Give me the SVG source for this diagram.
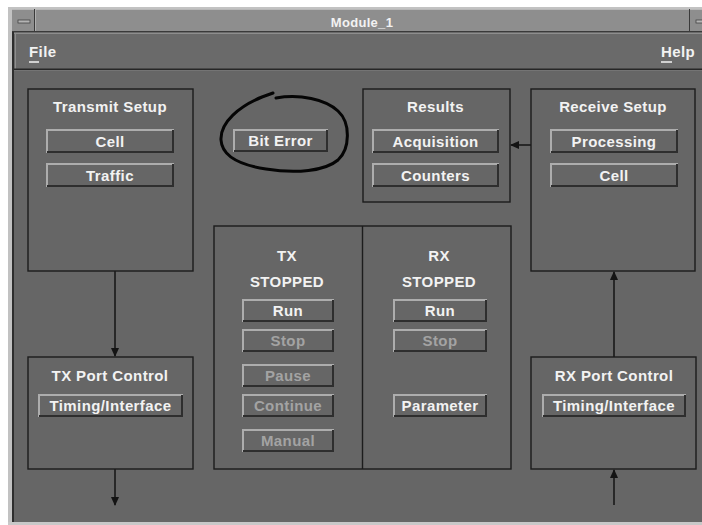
<svg xmlns="http://www.w3.org/2000/svg" width="702" height="525" viewBox="0 0 702 525">
<defs>
<style>
.t{font-family:"Liberation Sans",Arial,Helvetica,sans-serif;font-weight:bold;font-size:15px;fill:#f2f2f2;text-anchor:middle;letter-spacing:0.4px}
.dis{fill:#a3a3a3}
.box{fill:none;stroke:#1c1c1c;stroke-width:1.4}
.bl{fill:none;stroke:#adadad;stroke-width:2}
.bd{fill:none;stroke:#2e2e2e;stroke-width:2}
.face{fill:#666666}
.c{stroke:#141414;stroke-width:1.5;fill:none}
</style>
<marker id="ah" markerWidth="9" markerHeight="8" refX="8" refY="4" orient="auto" markerUnits="userSpaceOnUse"><path d="M0,0 L9,4 L0,8 z" fill="#141414"/></marker>
</defs>

<!-- window frame -->
<g id="window">
<rect x="0" y="0" width="702" height="525" fill="#ffffff"/>
<rect x="8" y="7" width="694" height="518" fill="#c2c2c2"/>
<rect x="12" y="9" width="690" height="23" fill="#8e8e8e"/>
<line x1="12" y1="9.5" x2="702" y2="9.5" stroke="#b8b8b8"/>
<line x1="12" y1="31.5" x2="702" y2="31.5" stroke="#3a3a3a"/>
<line x1="34.5" y1="9" x2="34.5" y2="32" stroke="#3a3a3a"/>
<line x1="689.5" y1="9" x2="689.5" y2="32" stroke="#3a3a3a"/>
<line x1="35.5" y1="10" x2="35.5" y2="31" stroke="#b0b0b0"/>
<rect x="18" y="20" width="12" height="3" fill="#b4b4b4" stroke="#444" stroke-width="0.8"/>
<rect x="696" y="20" width="8" height="3" fill="#b4b4b4" stroke="#444" stroke-width="0.8"/>
<text x="362" y="27" class="t" style="font-size:13px;letter-spacing:0.3px">Module_1</text>
<rect x="13" y="32" width="689" height="38" fill="#6a6a6a"/>
<line x1="14" y1="33.5" x2="702" y2="33.5" stroke="#8e8e8e"/>
<line x1="15.5" y1="33" x2="15.5" y2="69" stroke="#8e8e8e"/>
<line x1="13" y1="69.5" x2="702" y2="69.5" stroke="#262626" stroke-width="2"/>
<rect x="13" y="71" width="689" height="451" fill="#666666"/>
<line x1="13" y1="32" x2="13" y2="522" stroke="#2e2e2e" stroke-width="2"/>
<rect x="8" y="522" width="694" height="3" fill="#c8c8c8"/>
<text x="29" y="57" class="t" style="text-anchor:start">File</text>
<line x1="29" y1="62" x2="39" y2="62" stroke="#d0d0d0" stroke-width="2"/>
<text x="661" y="57" class="t" style="text-anchor:start">Help</text>
<line x1="661" y1="62" x2="672" y2="62" stroke="#d0d0d0" stroke-width="2"/>
</g>

<!-- connectors -->
<g id="connectors">
<line class="c" x1="115" y1="271" x2="115" y2="356" marker-end="url(#ah)"/>
<line class="c" x1="115" y1="469" x2="115" y2="505" marker-end="url(#ah)"/>
<line class="c" x1="614" y1="357" x2="614" y2="272" marker-end="url(#ah)"/>
<line class="c" x1="614" y1="505" x2="614" y2="470" marker-end="url(#ah)"/>
<line class="c" x1="531" y1="145" x2="511" y2="145" marker-end="url(#ah)"/>
</g>

<!-- Transmit Setup -->
<g id="transmit-setup">
<rect class="box" x="28" y="89" width="165" height="182"/>
<text class="t" x="110" y="112">Transmit Setup</text>
<g id="ts-cell"><rect class="face" x="46" y="129" width="128" height="24"/><polyline class="bl" points="47,153 47,130 174,130"/><polyline class="bd" points="47,152 173,152 173,130"/><text class="t" x="110" y="147">Cell</text></g>
<g id="ts-traffic"><rect class="face" x="46" y="163" width="128" height="24"/><polyline class="bl" points="47,187 47,164 174,164"/><polyline class="bd" points="47,186 173,186 173,164"/><text class="t" x="110" y="181">Traffic</text></g>
</g>

<!-- Bit Error -->
<g id="bit-error">
<rect class="face" x="233" y="129" width="95" height="23"/><polyline class="bl" points="234,152 234,130 328,130"/><polyline class="bd" points="234,151 327,151 327,130"/><text class="t" x="280.5" y="146">Bit Error</text>
<path d="M276,98 C300,94 325,99 338,111 C351,123 350,149 338,160 C325,171 296,174 266,169 C240,165 222,156 221,140 C220,122 240,106 262,97 L273,93" fill="none" stroke="#050505" stroke-width="3" stroke-linecap="round" stroke-linejoin="round"/>
</g>

<!-- Results -->
<g id="results">
<rect class="box" x="363" y="89" width="147" height="113"/>
<text class="t" x="435.5" y="112">Results</text>
<g id="res-acq"><rect class="face" x="372" y="129" width="127" height="24"/><polyline class="bl" points="373,153 373,130 499,130"/><polyline class="bd" points="373,152 498,152 498,130"/><text class="t" x="435.5" y="147">Acquisition</text></g>
<g id="res-cnt"><rect class="face" x="372" y="163" width="127" height="24"/><polyline class="bl" points="373,187 373,164 499,164"/><polyline class="bd" points="373,186 498,186 498,164"/><text class="t" x="435.5" y="181">Counters</text></g>
</g>

<!-- Receive Setup -->
<g id="receive-setup">
<rect class="box" x="531" y="89" width="164" height="182"/>
<text class="t" x="613" y="112">Receive Setup</text>
<g id="rs-proc"><rect class="face" x="550" y="129" width="128" height="24"/><polyline class="bl" points="551,153 551,130 678,130"/><polyline class="bd" points="551,152 677,152 677,130"/><text class="t" x="614" y="147">Processing</text></g>
<g id="rs-cell"><rect class="face" x="550" y="163" width="128" height="24"/><polyline class="bl" points="551,187 551,164 678,164"/><polyline class="bd" points="551,186 677,186 677,164"/><text class="t" x="614" y="181">Cell</text></g>
</g>

<!-- TX / RX control -->
<g id="txrx-control">
<rect class="box" x="214" y="226" width="297" height="243"/>
<line x1="362.5" y1="226" x2="362.5" y2="469" stroke="#1c1c1c" stroke-width="1.4"/>
<text class="t" x="287" y="261">TX</text>
<text class="t" x="287" y="287">STOPPED</text>
<text class="t" x="439" y="261">RX</text>
<text class="t" x="439" y="287">STOPPED</text>
<g id="tx-run"><rect class="face" x="242" y="299" width="92" height="23"/><polyline class="bl" points="243,322 243,300 334,300"/><polyline class="bd" points="243,321 333,321 333,300"/><text class="t" x="288" y="316">Run</text></g>
<g id="tx-stop"><rect class="face" x="242" y="329" width="92" height="23"/><polyline class="bl" points="243,352 243,330 334,330"/><polyline class="bd" points="243,351 333,351 333,330"/><text class="t dis" x="288" y="346">Stop</text></g>
<g id="tx-pause"><rect class="face" x="242" y="364" width="92" height="23"/><polyline class="bl" points="243,387 243,365 334,365"/><polyline class="bd" points="243,386 333,386 333,365"/><text class="t dis" x="288" y="381">Pause</text></g>
<g id="tx-continue"><rect class="face" x="242" y="394" width="92" height="23"/><polyline class="bl" points="243,417 243,395 334,395"/><polyline class="bd" points="243,416 333,416 333,395"/><text class="t dis" x="288" y="411">Continue</text></g>
<g id="tx-manual"><rect class="face" x="242" y="429" width="92" height="23"/><polyline class="bl" points="243,452 243,430 334,430"/><polyline class="bd" points="243,451 333,451 333,430"/><text class="t dis" x="288" y="446">Manual</text></g>
<g id="rx-run"><rect class="face" x="393" y="299" width="94" height="23"/><polyline class="bl" points="394,322 394,300 487,300"/><polyline class="bd" points="394,321 486,321 486,300"/><text class="t" x="440" y="316">Run</text></g>
<g id="rx-stop"><rect class="face" x="393" y="329" width="94" height="23"/><polyline class="bl" points="394,352 394,330 487,330"/><polyline class="bd" points="394,351 486,351 486,330"/><text class="t dis" x="440" y="346">Stop</text></g>
<g id="rx-param"><rect class="face" x="393" y="394" width="94" height="23"/><polyline class="bl" points="394,417 394,395 487,395"/><polyline class="bd" points="394,416 486,416 486,395"/><text class="t" x="440" y="411">Parameter</text></g>
</g>

<!-- TX Port Control -->
<g id="tx-port-control">
<rect class="box" x="28" y="357" width="165" height="112"/>
<text class="t" x="110" y="381">TX Port Control</text>
<g id="tx-timing"><rect class="face" x="38" y="394" width="145" height="23"/><polyline class="bl" points="39,417 39,395 183,395"/><polyline class="bd" points="39,416 182,416 182,395"/><text class="t" x="110.5" y="411">Timing/Interface</text></g>
</g>

<!-- RX Port Control -->
<g id="rx-port-control">
<rect class="box" x="531" y="357" width="165" height="112"/>
<text class="t" x="614" y="381">RX Port Control</text>
<g id="rx-timing"><rect class="face" x="542" y="394" width="144" height="23"/><polyline class="bl" points="543,417 543,395 686,395"/><polyline class="bd" points="543,416 685,416 685,395"/><text class="t" x="614" y="411">Timing/Interface</text></g>
</g>
</svg>
